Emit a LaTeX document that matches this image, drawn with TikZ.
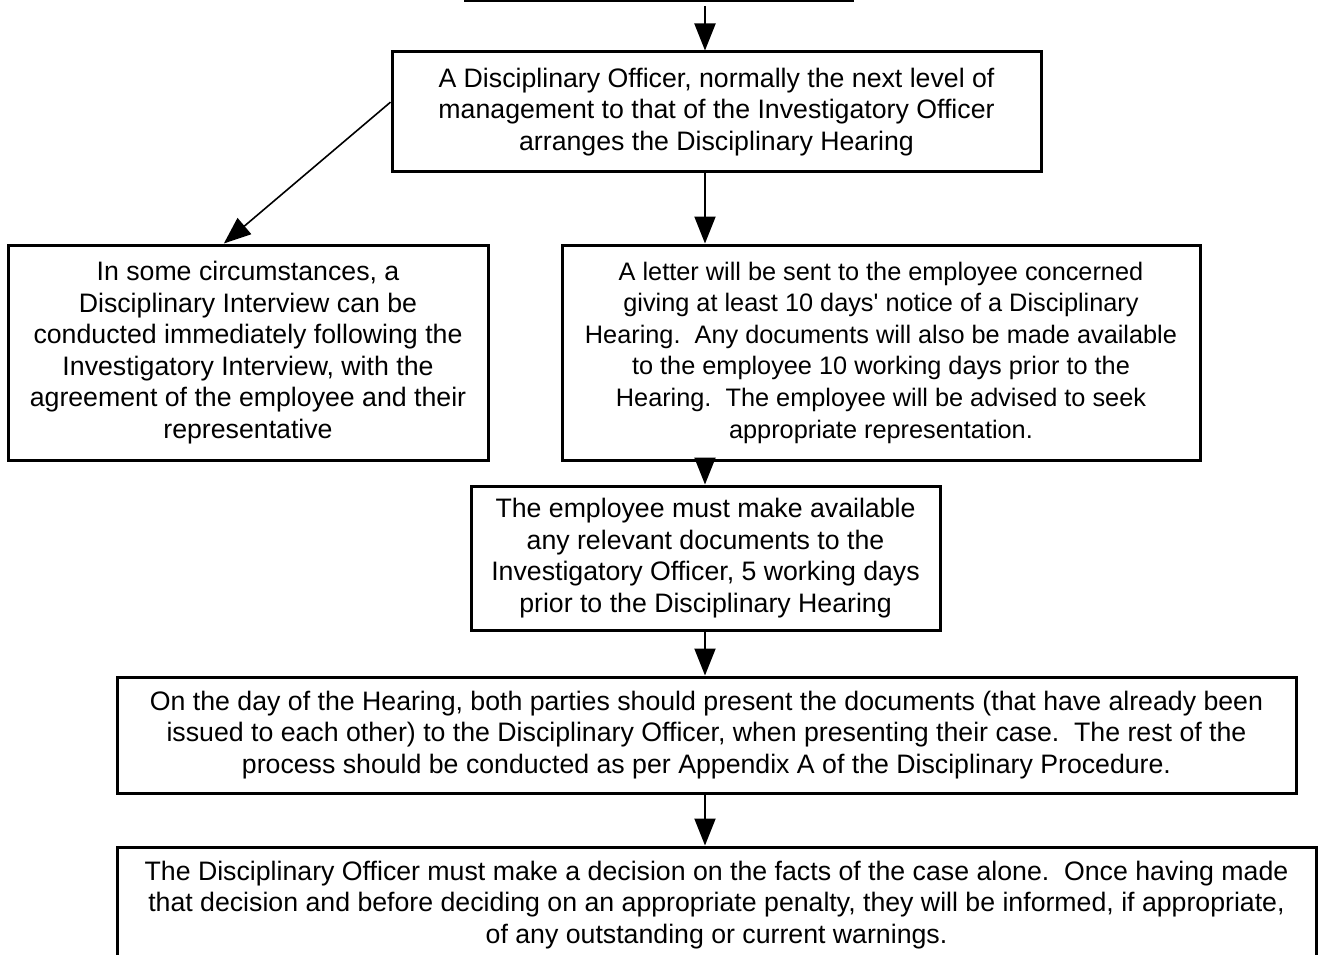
\documentclass[tikz,border=0pt]{standalone}
\usepackage{fontspec}
\setmainfont{Liberation Sans}
\usetikzlibrary{arrows.meta,calc}
\frenchspacing
\begin{document}
\begin{tikzpicture}[x=1pt,y=-1pt,
  box/.style={draw, line width=3pt, inner sep=0pt, align=center,
    font=\fontsize{26.7}{31.6}\selectfont},
  smallbox/.style={box, font=\fontsize{25.3}{31.6}\selectfont},
  arr/.style={line width=2pt, -{Triangle[width=21pt,length=27pt]}},
  diag/.style={line width=1.6pt, -{Triangle[width=21pt,length=27pt]}}]
\useasboundingbox (0,0) rectangle (1318,955);
\node[draw, line width=3pt, minimum width=387pt, minimum height=100pt, inner sep=0pt] (prev) at (658.5,-49.5) {};
\node[box, minimum width=649pt, minimum height=120pt] (b1) at (716.5,112)
  {A Disciplinary Officer, normally the next level of\\management to that of the Investigatory Officer\\arranges the Disciplinary Hearing};
\node[box, minimum width=480pt, minimum height=215pt] (left) at (248,352.5)
  {In some circumstances, a\\Disciplinary Interview can be\\conducted immediately following the\\Investigatory Interview, with the\\agreement of the employee and their\\representative};
\node[smallbox, minimum width=638pt, minimum height=215pt] (right) at (881,352.5)
  {A letter will be sent to the employee concerned\\giving at least 10 days\textquotesingle\ notice of a Disciplinary\\Hearing.~ Any documents will also be made available\\to the employee 10 working days prior to the\\Hearing.~ The employee will be advised to seek\\appropriate representation.};
\node[box, minimum width=469pt, minimum height=144pt] (mid) at (705.5,558)
  {The employee must make available\\any relevant documents to the\\Investigatory Officer, 5 working days\\prior to the Disciplinary Hearing};
\node[box, minimum width=1179pt, minimum height=116pt] (b4) at (706.5,735)
  {On the day of the Hearing, both parties should present the documents (that have already been\\issued to each other) to the Disciplinary Officer, when presenting their case.~ The rest of the\\process should be conducted as per Appendix A of the Disciplinary Procedure.};
\node[box, minimum width=1199pt, minimum height=116pt] (b5) at (716.5,905)
  {The Disciplinary Officer must make a decision on the facts of the case alone.~ Once having made\\that decision and before deciding on an appropriate penalty, they will be informed, if appropriate,\\of any outstanding or current warnings.};
\coordinate (ax) at (705,0);
\draw[arr] ([yshift=-4pt]prev.south -| ax) -- (b1.north -| ax);
\draw[arr] (b1.south -| ax) -- (right.north -| ax);
\draw[arr] (right.south -| ax) -- (mid.north -| ax);
\draw[arr] (mid.south -| ax) -- (b4.north -| ax);
\draw[arr] (b4.south -| ax) -- (b5.north -| ax);
\draw[diag] ($(b1.north west)!0.42!(b1.south west)$) -- ($(left.north west)!0.45!(left.north east)$);
\end{tikzpicture}
\end{document}
